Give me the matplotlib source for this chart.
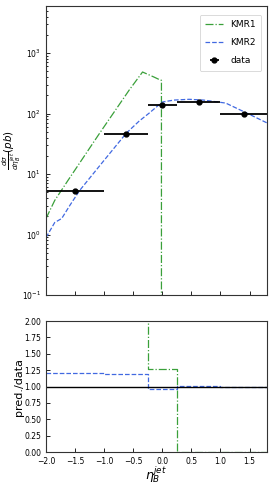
import numpy as np
import matplotlib
matplotlib.use("Agg")
import matplotlib.pyplot as plt

# ---- data ----
bin_edges = [-2.0, -1.0, -0.25, 0.25, 1.0, 1.8]
data_x = [-1.5, -0.625, 0.0, 0.625, 1.4]
data_y = [5.2, 45.6, 138.0, 155.0, 100.0]
data_xlo = [0.5, 0.375, 0.25, 0.375, 0.4]
data_xhi = [0.5, 0.375, 0.25, 0.375, 0.4]

kmr1_x = [-2.0, -1.85, -1.62, -1.08, -0.57, -0.34, -0.14, -0.04, -0.015, -0.015]
kmr1_y = [1.84, 3.66, 7.9, 47.0, 244.0, 486.0, 400.0, 360.0, 355.0, 1e-3]

kmr2_x = [-2.0, -1.85, -1.73, -1.59, -1.42, -1.08, -0.62, -0.40, -0.23, 0.0, 0.20, 0.46, 0.71, 1.09, 1.46, 1.8]
kmr2_y = [0.89, 1.58, 1.84, 3.03, 5.37, 13.6, 47.3, 74.8, 101.0, 155.0, 167.0, 172.0, 167.0, 149.0, 101.0, 70.0]

kmr1_ratio = [3.0, 3.0, 1.27, 0.0, 0.0]
kmr2_ratio = [1.20, 1.186, 0.957, 1.012, 1.0]

green = "#3aa03a"
blue = "#4169e1"

fig = plt.figure(figsize=(2.72, 4.90), dpi=100)
ax = fig.add_axes([46/272, 195/490, 221/272, 289/490])
axr = fig.add_axes([46/272, 38/490, 221/272, 131/490], sharex=ax)

ax.plot(kmr1_x, kmr1_y, color=green, ls="-.", lw=0.9, label="KMR1")
ax.plot(kmr2_x, kmr2_y, color=blue, ls="--", lw=0.9, label="KMR2")
ax.errorbar(data_x, data_y, xerr=[data_xlo, data_xhi], fmt="o", color="black",
            ms=3.5, elinewidth=1.3, capsize=0, label="data")
ax.set_yscale("log")
ax.set_ylim(0.1, 6000)
ax.set_xlim(-2.0, 1.8)
ax.set_ylabel(r"$\frac{d\sigma}{d\eta_B^{jet}}(pb)$", fontsize=7.5)
ax.yaxis.set_label_coords(-0.105, 0.5)
ax.tick_params(labelbottom=False)
leg = ax.legend(loc="upper right", fontsize=6.5, frameon=True, handlelength=2.0,
                borderpad=0.6, labelspacing=1.0, framealpha=1.0,
                bbox_to_anchor=(0.995, 0.985))
leg.get_frame().set_linewidth(0.5)

axr.step(bin_edges, kmr1_ratio + [kmr1_ratio[-1]], where="post", color=green, ls="-.", lw=0.9)
axr.step(bin_edges, kmr2_ratio + [kmr2_ratio[-1]], where="post", color=blue, ls="--", lw=0.9)
axr.axhline(1.0, color="black", lw=1.0)
axr.set_ylim(0.0, 2.0)
axr.set_yticks(np.arange(0, 2.01, 0.25))
axr.set_xticks(np.arange(-2.0, 1.6, 0.5))
axr.set_xlim(-2.0, 1.8)
axr.set_ylabel("pred./data", fontsize=8)
axr.yaxis.set_label_coords(-0.1, 0.5)
axr.set_xlabel(r"$\eta_B^{jet}$", fontsize=9)
axr.xaxis.set_label_coords(0.5, -0.095)

for a in (ax, axr):
    a.tick_params(direction="in", which="both", labelsize=5.5, width=0.6)
    a.tick_params(which="major", length=3)
    a.tick_params(which="minor", length=1.5)
    for s in a.spines.values():
        s.set_linewidth(0.8)
        s.set_color("#333333")

fig.savefig("out.png", dpi=100)
